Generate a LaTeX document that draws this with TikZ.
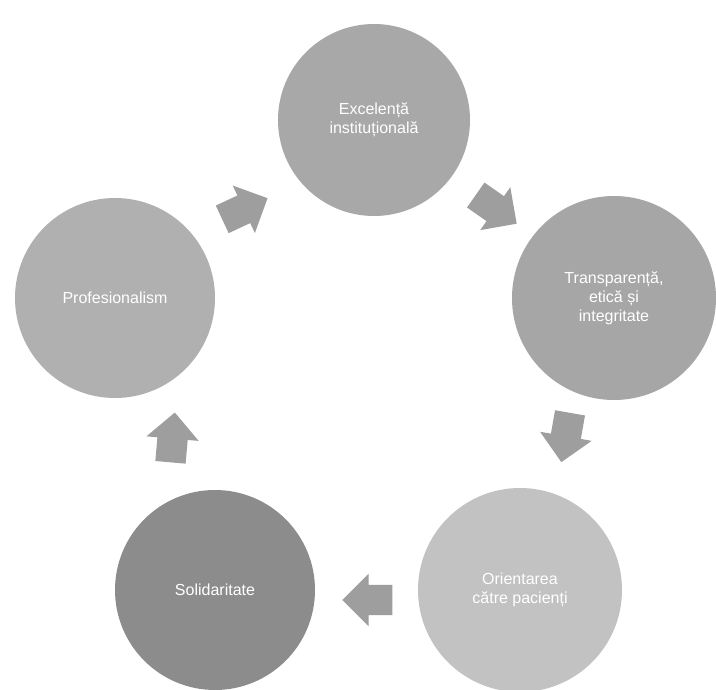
\documentclass[tikz,border=0pt]{standalone}
\usepackage{fontspec}
\setmainfont{Liberation Sans}
\usetikzlibrary{shapes.arrows}
\begin{document}
\begin{tikzpicture}[x=1pt,y=-1pt,
  valuecircle/.style={circle,minimum size=#1,inner sep=0pt,text=white,align=center,font=\fontsize{16}{19}\selectfont},
  blockarrow/.style={single arrow,draw=none,fill=black!38,minimum height=50pt,minimum width=52pt,
    single arrow head extend=11pt,single arrow head indent=0pt,inner xsep=0pt,inner ysep=15pt,rotate=#1}]
\useasboundingbox (0,0) rectangle (716,690);
\fill[white] (0,0) rectangle (716,690);
\node[valuecircle=192pt,fill=black!34] (top) at (374,120) {Excelență\\instituțională};
\node[valuecircle=204pt,fill=black!35] (right) at (614,298) {Transparență,\\etică și\\integritate};
\node[valuecircle=200pt,fill=black!31] (left) at (115,298) {Profesionalism};
\node[valuecircle=200pt,fill=black!45] (botleft) at (215,590) {Solidaritate};
\node[valuecircle=204pt,fill=black!24] (botright) at (520,590) {Orientarea\\către pacienți};
\node[blockarrow=25] (a1) at (238,212) {};
\node[blockarrow=-35] (a2) at (490,205) {};
\node[blockarrow=-100] (a3) at (567,430) {};
\node[blockarrow=180] (a4) at (375,600) {};
\node[blockarrow=85] (a5) at (172,445) {};
\end{tikzpicture}
\end{document}
